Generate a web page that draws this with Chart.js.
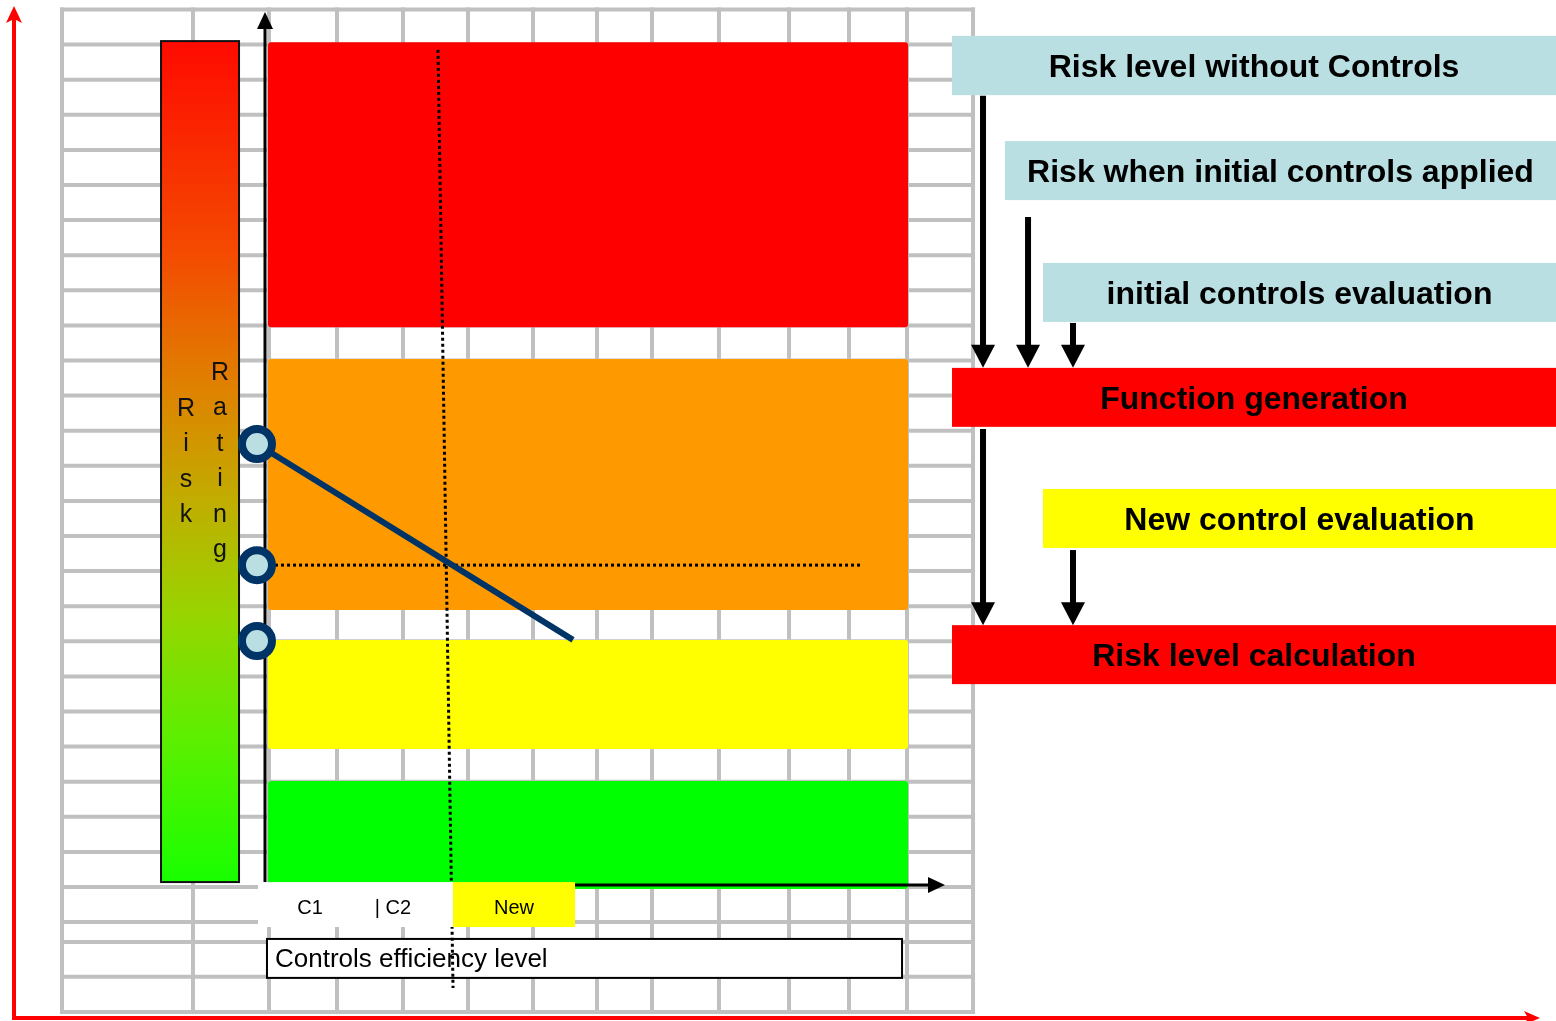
<!DOCTYPE html>
<html>
<head>
<meta charset="utf-8">
<script src="https://cdn.jsdelivr.net/npm/chart.js@4/dist/chart.umd.min.js"></script>
<style>
  html, body { margin: 0; padding: 0; background: #fff; }
  #wrap { width: 1556px; height: 1021px; }
</style>
</head>
<body>
<div id="wrap"><canvas id="chart"></canvas></div>
<script>
// x: controls efficiency level (0 = risk axis, 100 = arrow tip), y: risk rating in grid rows
const xMin = -38.97, xMax = 189.85
const yMin = -3.818, yMax = 25.271

// background sheet grid
const gridCols = [-29.85, -10.59, 0.59, 10.59, 20.29, 29.85, 39.41, 48.82, 56.91, 66.76, 77.06, 85.88, 94.41, 104.12]
const gridRows = [25, 24, 23, 22, 21, 20, 19, 18, 17, 16, 15, 14, 13, 12, 11, 10, 9, 8, 7, 6, 5, 4, 3, 2, 1, 0, -1, -1.57, -2.56, -3.56]

// risk bands
const bandNames = ['Critical', 'High', 'Medium', 'Low']
const bandTop = [24.07, 15.04, 7.04, 3.02]
const bandBottom = [15.95, 7.89, 3.93, -0.06]
const bandFrom = 0.44
const bandTo = 94.56

// risk levels on the rating axis
const riskLevelNames = ['Without controls', 'Initial controls', 'New control']
const riskLevels = [12.62, 9.17, 7.01]
const riskAxisX = -1.18

// risk function
const functionX = [-1.18, 45.29]
const functionY = [12.62, 7.04]

// new control efficiency (dotted) and resulting risk
const newControlX = [25.44, 27.65]
const newControlY = [23.85, -2.88]
const resultX = [1.47, 87.79]
const resultY = [9.17, 9.17]

// controls on the efficiency axis
const controlLabels = ['C1', '| C2', 'New']
const controlX = [6.62, 18.82, 36.62]

// process steps
const flowSteps = ['Risk level without Controls', 'Risk when initial controls applied', 'initial controls evaluation',
  'Function generation', 'New control evaluation', 'Risk level calculation']
const flowLeft = [101.03, 108.82, 114.41, 101.03, 114.41, 101.03]
const flowTop = [24.25, 21.25, 17.78, 14.79, 11.34, 7.46]
const flowBottom = [22.56, 19.57, 16.10, 13.11, 9.66, 5.78]
const arrowX = [105.59, 112.21, 118.82, 105.59, 118.82]
const arrowFrom = [22.54, 19.09, 16.07, 13.05, 9.60]
const arrowTo = [14.79, 14.79, 14.79, 7.46, 7.46]

const bandColors = ['#FF0000', '#FF9900', '#FFFF00', '#00FF00']
const flowColors = ['#B9DFE3', '#B9DFE3', '#B9DFE3', '#FF0000', '#FFFF00', '#FF0000']
const FONT = '"Liberation Sans", Arial, sans-serif'

function seg(ctx, x1, y1, x2, y2) {
  ctx.beginPath()
  ctx.moveTo(x1, y1)
  ctx.lineTo(x2, y2)
  ctx.stroke()
}

function tri(ctx, pts) {
  ctx.beginPath()
  ctx.moveTo(pts[0][0], pts[0][1])
  for (let i = 1; i < pts.length; i++) ctx.lineTo(pts[i][0], pts[i][1])
  ctx.closePath()
  ctx.fill()
}

const diagram = {
  id: 'diagram',
  beforeDatasetsDraw(chart) {
    const ctx = chart.ctx
    const X = v => chart.scales.x.getPixelForValue(v)
    const Y = v => chart.scales.y.getPixelForValue(v)
    ctx.save()

    // sheet grid
    ctx.strokeStyle = '#C0C0C0'
    ctx.lineWidth = 4
    ctx.lineCap = 'square'
    gridRows.forEach(r => seg(ctx, X(gridCols[0]), Y(r), X(gridCols[gridCols.length - 1]), Y(r)))
    gridCols.forEach(c => seg(ctx, X(c), Y(gridRows[0]), X(c), Y(gridRows[gridRows.length - 1])))
    ctx.lineCap = 'butt'

    // risk bands
    bandNames.forEach((name, i) => {
      ctx.fillStyle = bandColors[i]
      ctx.beginPath()
      ctx.roundRect(X(bandFrom), Y(bandTop[i]), X(bandTo) - X(bandFrom), Y(bandBottom[i]) - Y(bandTop[i]), 3)
      ctx.fill()
    })

    // rating gradient bar
    const gx1 = X(-15.29), gx2 = X(-3.82), gy1 = Y(24.10), gy2 = Y(0.14)
    const g = ctx.createLinearGradient(0, gy1, 0, gy2)
    g.addColorStop(0, '#FF0A00')
    g.addColorStop(0.25, '#F44A00')
    g.addColorStop(0.42, '#DE8400')
    g.addColorStop(0.55, '#C0AE00')
    g.addColorStop(0.68, '#98D400')
    g.addColorStop(0.82, '#60EE00')
    g.addColorStop(1, '#18FF00')
    ctx.fillStyle = g
    ctx.fillRect(gx1, gy1, gx2 - gx1, gy2 - gy1)
    ctx.strokeStyle = '#111'
    ctx.lineWidth = 2
    ctx.strokeRect(gx1, gy1, gx2 - gx1, gy2 - gy1)

    ctx.fillStyle = '#111'
    ctx.font = '25px ' + FONT
    ctx.textAlign = 'center'
    ctx.textBaseline = 'middle'
    'Risk'.split('').forEach((ch, i) => ctx.fillText(ch, X(-11.62), Y(13.65 - i * 1.01) + 1))
    'Rating'.split('').forEach((ch, i) => ctx.fillText(ch, X(-6.62), Y(14.67 - i * 1.01) + 1))

    // axes
    ctx.strokeStyle = '#000'
    ctx.fillStyle = '#000'
    ctx.lineWidth = 3
    seg(ctx, X(0), Y(0.14), X(0), Y(24.93) + 10)
    tri(ctx, [[X(0), Y(24.93)], [X(0) - 8, Y(24.93) + 17], [X(0) + 8, Y(24.93) + 17]])
    seg(ctx, X(0), Y(0.06), X(100) - 12, Y(0.06))
    tri(ctx, [[X(100), Y(0.06)], [X(100) - 17, Y(0.06) - 8], [X(100) - 17, Y(0.06) + 8]])

    // efficiency label box
    const bx1 = X(0.29), bx2 = X(93.68), by1 = Y(-1.48), by2 = Y(-2.59)
    ctx.fillStyle = '#fff'
    ctx.fillRect(bx1, by1, bx2 - bx1, by2 - by1)
    ctx.lineWidth = 2
    ctx.strokeRect(bx1, by1, bx2 - bx1, by2 - by1)
    ctx.fillStyle = '#000'
    ctx.font = '26px ' + FONT
    ctx.textAlign = 'left'
    ctx.fillText('Controls efficiency level', X(1.47), Y(-2.02) + 2)

    // process flow
    flowSteps.forEach((step, i) => {
      const x1 = X(flowLeft[i]), x2 = X(xMax), y1 = Y(flowTop[i]), y2 = Y(flowBottom[i])
      ctx.fillStyle = flowColors[i]
      ctx.fillRect(x1, y1, x2 - x1, y2 - y1)
      ctx.fillStyle = '#000'
      ctx.font = 'bold 32px ' + FONT
      ctx.textAlign = 'center'
      ctx.fillText(step, (x1 + x2) / 2, (y1 + y2) / 2 + 3)
    })
    ctx.strokeStyle = '#000'
    ctx.fillStyle = '#000'
    ctx.lineWidth = 6
    arrowX.forEach((ax, i) => {
      const px = X(ax), tip = Y(arrowTo[i])
      seg(ctx, px, Y(arrowFrom[i]), px, tip - 20)
      tri(ctx, [[px, tip], [px - 12, tip - 23], [px + 12, tip - 23]])
    })

    // outer red axes
    ctx.strokeStyle = '#FF0000'
    ctx.fillStyle = '#FF0000'
    ctx.lineWidth = 4
    const ox = X(-36.91), oy = Y(-3.73)
    seg(ctx, ox, oy + 2, ox, Y(25.10) + 12)
    tri(ctx, [[ox, Y(25.10)], [ox - 8, Y(25.10) + 17], [ox, Y(25.10) + 13], [ox + 8, Y(25.10) + 17]])
    seg(ctx, ox - 2, oy, X(187.5) - 12, oy)
    tri(ctx, [[X(187.5), oy], [X(187.5) - 16, oy - 7], [X(187.5) - 12, oy], [X(187.5) - 16, oy + 7]])

    ctx.restore()
  },
  afterDatasetsDraw(chart) {
    const ctx = chart.ctx
    const X = v => chart.scales.x.getPixelForValue(v)
    const Y = v => chart.scales.y.getPixelForValue(v)
    ctx.save()
    // control labels on the efficiency axis
    const ty = Y(0.14), by = Y(-1.14)
    ctx.fillStyle = '#fff'
    ctx.fillRect(X(-1.03), ty, X(27.65) - X(-1.03), by - ty)
    ctx.fillStyle = '#FFFF00'
    ctx.fillRect(X(27.65), ty, X(45.59) - X(27.65), by - ty)
    ctx.fillStyle = '#000'
    ctx.font = '20px ' + FONT
    ctx.textAlign = 'center'
    ctx.textBaseline = 'middle'
    controlLabels.forEach((lab, i) => ctx.fillText(lab, X(controlX[i]), Y(-0.57) + 1))
    ctx.restore()
  }
}

new Chart(document.getElementById('chart'), {
  type: 'scatter',
  data: {
    datasets: [
      {
        label: 'Risk levels',
        data: riskLevels.map(v => ({ x: riskAxisX, y: v })),
        pointRadius: 15,
        pointBorderWidth: 8,
        pointBackgroundColor: '#B9DFE3',
        pointBorderColor: '#003366',
        showLine: false
      },
      {
        label: 'Risk function',
        data: functionX.map((x, i) => ({ x, y: functionY[i] })),
        showLine: true,
        borderColor: '#003366',
        borderWidth: 6,
        pointRadius: 0
      },
      {
        label: 'Resulting risk',
        data: resultX.map((x, i) => ({ x, y: resultY[i] })),
        showLine: true,
        borderColor: '#000',
        borderWidth: 3,
        borderDash: [3, 3],
        pointRadius: 0
      },
      {
        label: 'New control efficiency',
        data: newControlX.map((x, i) => ({ x, y: newControlY[i] })),
        showLine: true,
        borderColor: '#000',
        borderWidth: 3,
        borderDash: [3, 3],
        pointRadius: 0
      }
    ]
  },
  options: {
    responsive: true,
    maintainAspectRatio: false,
    animation: false,
    devicePixelRatio: 1,
    events: [],
    layout: { padding: 0, autoPadding: false },
    scales: {
      x: { type: 'linear', min: xMin, max: xMax, display: false },
      y: { type: 'linear', min: yMin, max: yMax, display: false }
    },
    plugins: {
      legend: { display: false },
      tooltip: { enabled: false }
    }
  },
  plugins: [diagram]
})
</script>
</body>
</html>
